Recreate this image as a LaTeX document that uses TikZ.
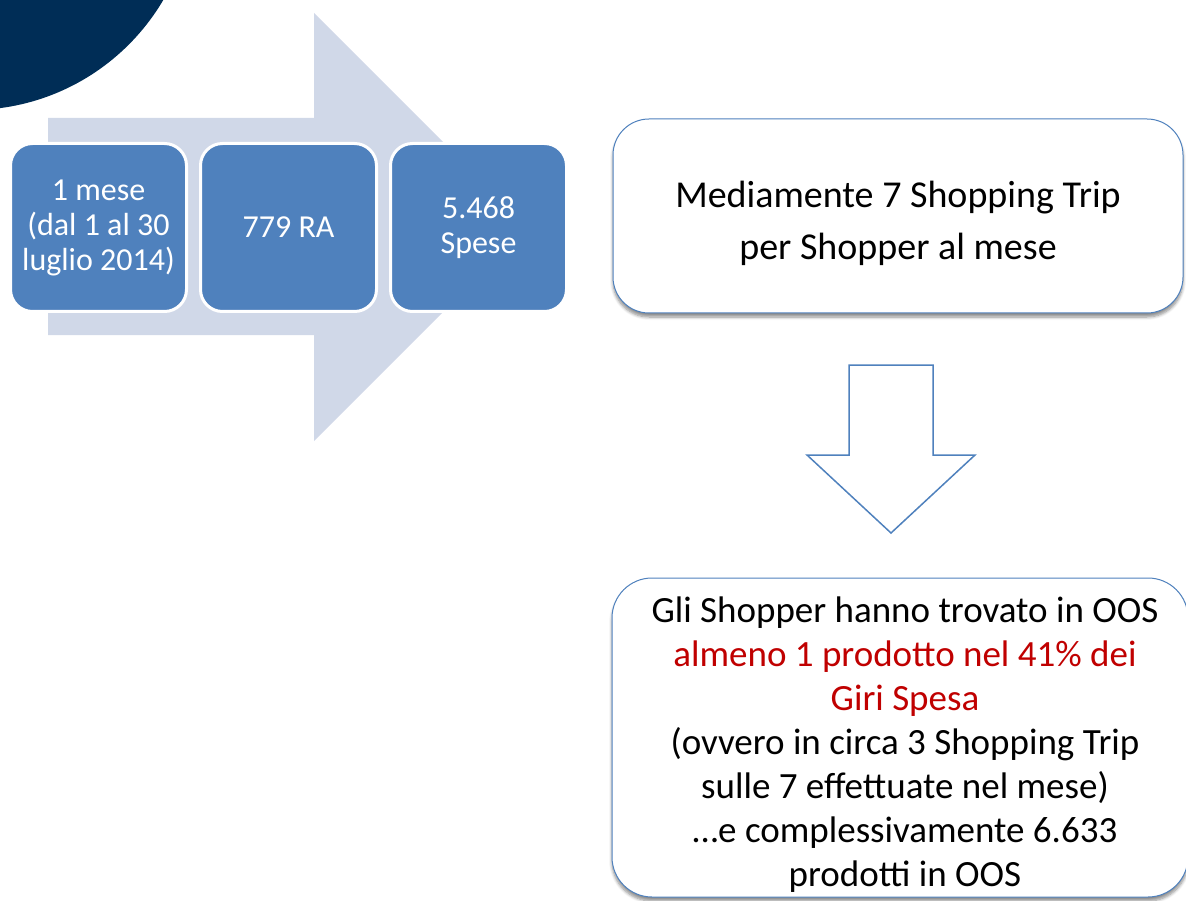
\documentclass[tikz,border=0pt]{standalone}
\usepackage{fontspec}
\setmainfont{Carlito}
\usetikzlibrary{shadows,shadows.blur}
\definecolor{navy}{RGB}{0,45,86}
\definecolor{lightarrow}{RGB}{208,216,232}
\definecolor{accentblue}{RGB}{79,129,189}
\definecolor{redtext}{RGB}{192,0,0}
\begin{document}
\begin{tikzpicture}[x=1pt,y=-1pt,
  bluebox/.style={rectangle, rounded corners=22pt, fill=accentblue, draw=white, line width=3pt,
    minimum width=176pt, minimum height=168pt, inner sep=0pt, text=white, align=center,
    font=\fontsize{32}{35}\selectfont},
  whitebox/.style={rectangle, fill=white, draw=accentblue, line width=1pt, inner sep=0pt, align=center,
    blur shadow={shadow xshift=0pt, shadow yshift=-4pt, shadow blur steps=6, shadow opacity=45, shadow blur radius=3pt}},
  outline/.style={draw=accentblue, line width=1.5pt, fill=white, line join=miter}
]
\clip (0,0) rectangle (1186,901);
% dark corner
\fill[navy] (-29,-113) circle (223pt);
% big light arrow
\fill[lightarrow] (48,118) -- (314,118) -- (314,13) -- (528,227) -- (314,441) -- (314,335) -- (48,335) -- cycle;
% blue boxes
\node[bluebox] (b1) at (98.5,227.5) {1 mese\\(dal 1 al 30\\luglio 2014)};
\node[bluebox] (b2) at (288.5,227.5) {779 RA};
\node[bluebox] (b3) at (478.5,227.5) {5.468\\Spese};
% right top box
\node[whitebox, rounded corners=36pt, minimum width=570pt, minimum height=194pt] (t1) at (898,216) {};
\node[align=center, font=\fontsize{38}{52}\selectfont, inner sep=0pt] (t1text) at (898,223) {Mediamente 7 Shopping Trip\\per Shopper al mese};
% down arrow
\draw[outline] (849,365) -- (933,365) -- (933,455) -- (975,455) -- (891,533) -- (807,455) -- (849,455) -- cycle;
% lower box
\node[whitebox, rounded corners=40pt, minimum width=576pt, minimum height=319pt] (t2) at (900,737.5) {};
\node[align=center, font=\fontsize{37}{44}\selectfont, inner sep=0pt] (t2text) at (905,744.5)
  {Gli Shopper hanno trovato in OOS\\
   \textcolor{redtext}{almeno 1 prodotto nel 41\% dei}\\
   \textcolor{redtext}{Giri Spesa}\\
   (ovvero in circa 3 Shopping Trip\\
   sulle 7 effettuate nel mese)\\
   …e complessivamente 6.633\\
   prodotti in OOS};
\end{tikzpicture}
\end{document}
